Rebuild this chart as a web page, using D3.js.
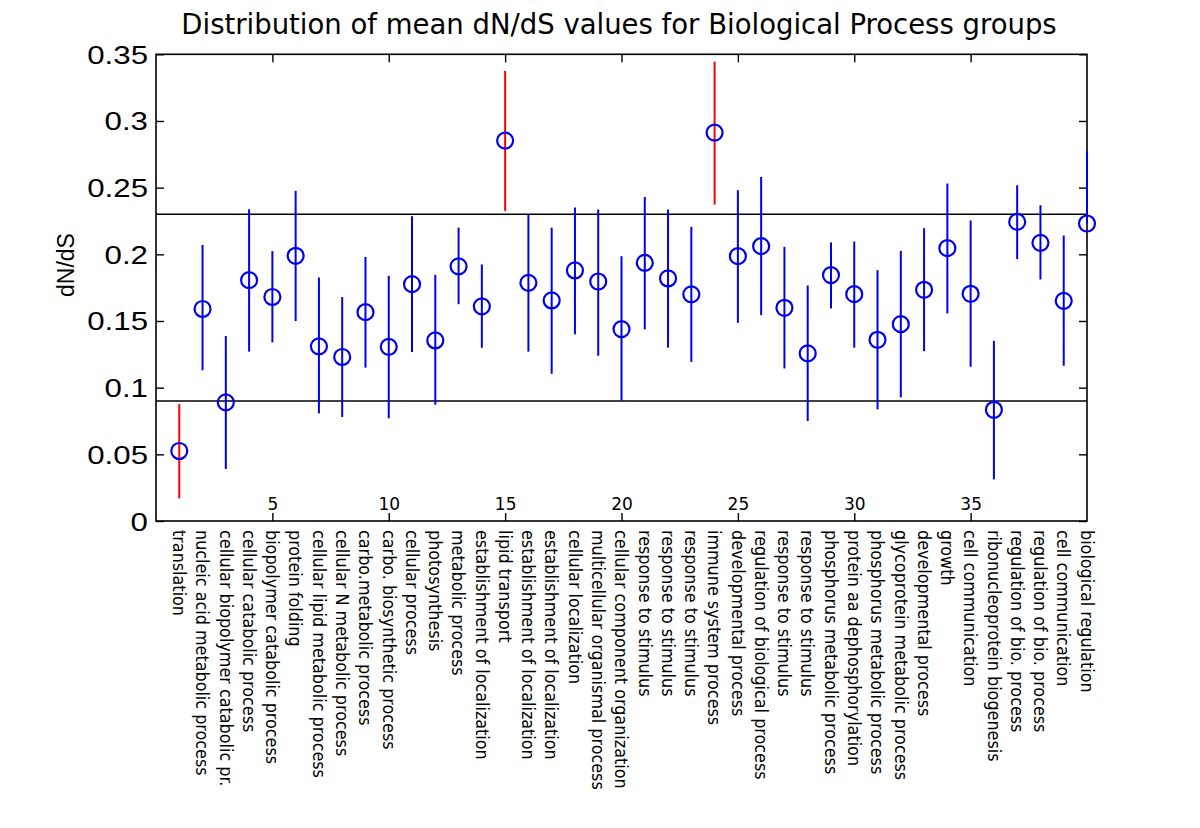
<!DOCTYPE html>
<html>
<head>
<meta charset="utf-8">
<script src="https://cdn.jsdelivr.net/npm/d3@7/dist/d3.min.js"></script>
<style>
  html, body { margin: 0; padding: 0; background: #fff; }
  svg { display: block; }
</style>
</head>
<body>
<svg id="chart" width="1200" height="828"></svg>
<script>
const categories = [
  "translation",
  "nucleic acid metabolic process",
  "cellular biopolymer catabolic pr.",
  "cellular catabolic process",
  "biopolymer catabolic process",
  "protein folding",
  "cellular lipid metabolic process",
  "cellular N metabolic process",
  "carbo.metabolic process",
  "carbo. biosynthetic process",
  "cellular process",
  "photosynthesis",
  "metabolic process",
  "establishment of localization",
  "lipid transport",
  "establishment of localization",
  "establishment of localization",
  "cellular localization",
  "multicellular organismal process",
  "cellular component organization",
  "response to stimulus",
  "response to stimulus",
  "response to stimulus",
  "immune system process",
  "developmental process",
  "regulation of biological process",
  "response to stimulus",
  "response to stimulus",
  "phosphorus metabolic process",
  "protein aa dephosphorylation",
  "phosphorus metabolic process",
  "glycoprotein metabolic process",
  "developmental process",
  "growth",
  "cell communication",
  "ribonucleoprotein biogenesis",
  "regulation of bio. process",
  "regulation of bio. process",
  "cell communication",
  "biological regulation"
];
const meanValues = [0.0525,0.159,0.089,0.1806,0.168,0.1989,0.131,0.123,0.1566,0.1306,
  0.1776,0.1354,0.191,0.161,0.2853,0.1786,0.1654,0.1879,0.1796,0.1439,
  0.1936,0.1819,0.17,0.2913,0.1986,0.2061,0.1599,0.1257,0.1844,0.1701,
  0.1359,0.1476,0.1734,0.2046,0.1704,0.0834,0.2243,0.2086,0.1651,0.2231];
const upperValues = [0.0877,0.207,0.1387,0.2338,0.2024,0.2476,0.1826,0.168,0.198,0.1839,
  0.2286,0.1846,0.220,0.1924,0.3375,0.2298,0.220,0.2351,0.2336,0.1986,
  0.243,0.2336,0.2206,0.3445,0.2481,0.258,0.2056,0.1766,0.2089,0.2096,
  0.1881,0.2026,0.2196,0.2531,0.2254,0.1351,0.2518,0.2368,0.2141,0.2773];
const lowerValues = [0.017,0.113,0.039,0.127,0.134,0.15,0.0807,0.078,0.115,0.077,
  0.1267,0.0872,0.1626,0.1299,0.2326,0.127,0.1104,0.14,0.1239,0.0902,
  0.1437,0.13,0.1194,0.2373,0.1486,0.1544,0.1144,0.075,0.1594,0.13,
  0.0837,0.0927,0.1274,0.1557,0.1157,0.0312,0.1964,0.1811,0.1164,0.2231];
const highlighted = [1, 15, 24];
const thresholds = [0.09, 0.23];
const yTicks = [0, 0.05, 0.1, 0.15, 0.2, 0.25, 0.3, 0.35];
const yTickLabels = ["0", "0.05", "0.1", "0.15", "0.2", "0.25", "0.3", "0.35"];
const xTicks = [5, 10, 15, 20, 25, 30, 35];
const xTickLabels = ["5", "10", "15", "20", "25", "30", "35"];

const titleText = "Distribution of mean dN/dS values for Biological Process groups";
const yLabelText = "dN/dS";

const svg = d3.select("#chart");
const L = 156, R = 1087, T = 54.3, B = 521;
const x = d3.scaleLinear().domain([0, 40]).range([L, R]);
const y = d3.scaleLinear().domain([0, 0.35]).range([B, T]);
const blue = "#0000ee", red = "#ff0000";

// title
svg.append("text")
  .attr("x", 619).attr("y", 34)
  .attr("text-anchor", "middle")
  .attr("font-family", "DejaVu Sans")
  .attr("font-size", 27.5)
  .attr("fill", "#000")
  .text(titleText);

// y label
svg.append("text")
  .attr("transform", "translate(74,265) rotate(-90)")
  .attr("text-anchor", "middle")
  .attr("font-family", "Liberation Sans, Arial, sans-serif")
  .attr("font-size", 23)
  .attr("fill", "#000")
  .text(yLabelText);

// threshold lines
svg.append("g").selectAll("line").data(thresholds).join("line")
  .attr("x1", L).attr("x2", R)
  .attr("y1", d => y(d)).attr("y2", d => y(d))
  .attr("stroke", "#000").attr("stroke-width", 1.4);

// axes
const gl = svg.append("g").attr("transform", `translate(${L},0)`)
  .call(d3.axisLeft(y).tickValues(yTicks).tickSize(-8).tickSizeOuter(0).tickPadding(8)
    .tickFormat((d, i) => yTickLabels[i]));
gl.selectAll("text")
  .attr("x", null).attr("dy", "0.36em")
  .attr("transform", "translate(-8,0) scale(1.25,1)")
  .attr("font-family", "Liberation Sans, Arial, sans-serif")
  .attr("font-size", 25).attr("fill", "#000");

const gr = svg.append("g").attr("transform", `translate(${R},0)`)
  .call(d3.axisRight(y).tickValues(yTicks).tickSize(-8).tickSizeOuter(0).tickFormat(""));

const gt = svg.append("g").attr("transform", `translate(0,${T})`)
  .call(d3.axisTop(x).tickValues(xTicks).tickSize(-8).tickSizeOuter(0).tickFormat(""));

const gb = svg.append("g").attr("transform", `translate(0,${B})`)
  .call(d3.axisBottom(x).tickValues(xTicks).tickSize(-8).tickSizeOuter(0)
    .tickFormat((d, i) => xTickLabels[i]));
gb.selectAll("text")
  .attr("y", -11).attr("dy", 0)
  .attr("font-family", "DejaVu Sans")
  .attr("font-size", 17).attr("fill", "#000");

[gl, gr, gt, gb].forEach(g => {
  g.select(".domain").remove();
  g.selectAll(".tick line").attr("stroke", "#000").attr("stroke-width", 1.4);
});

// frame
svg.append("rect")
  .attr("x", L).attr("y", T).attr("width", R - L).attr("height", B - T)
  .attr("fill", "none").attr("stroke", "#000").attr("stroke-width", 1.6);

// category labels
svg.append("g").selectAll("text").data(categories).join("text")
  .attr("transform", (d, i) => `translate(${x(i + 1)},530) rotate(90)`)
  .attr("dy", "0.35em")
  .attr("text-anchor", "start")
  .attr("font-family", "DejaVu Sans Condensed, DejaVu Sans")
  .attr("font-size", 17.8)
  .attr("fill", "#000")
  .text(d => d);

// error bars
const idx = d3.range(categories.length);
svg.append("g").selectAll("line").data(idx).join("line")
  .attr("x1", i => x(i + 1)).attr("x2", i => x(i + 1))
  .attr("y1", i => y(lowerValues[i])).attr("y2", i => y(upperValues[i]))
  .attr("stroke", i => highlighted.includes(i + 1) ? red : blue)
  .attr("stroke-width", 2);

// mean markers
svg.append("g").selectAll("circle").data(idx).join("circle")
  .attr("cx", i => x(i + 1)).attr("cy", i => y(meanValues[i]))
  .attr("r", 8)
  .attr("fill", "none")
  .attr("stroke", blue)
  .attr("stroke-width", 2.2);
</script>
</body>
</html>
